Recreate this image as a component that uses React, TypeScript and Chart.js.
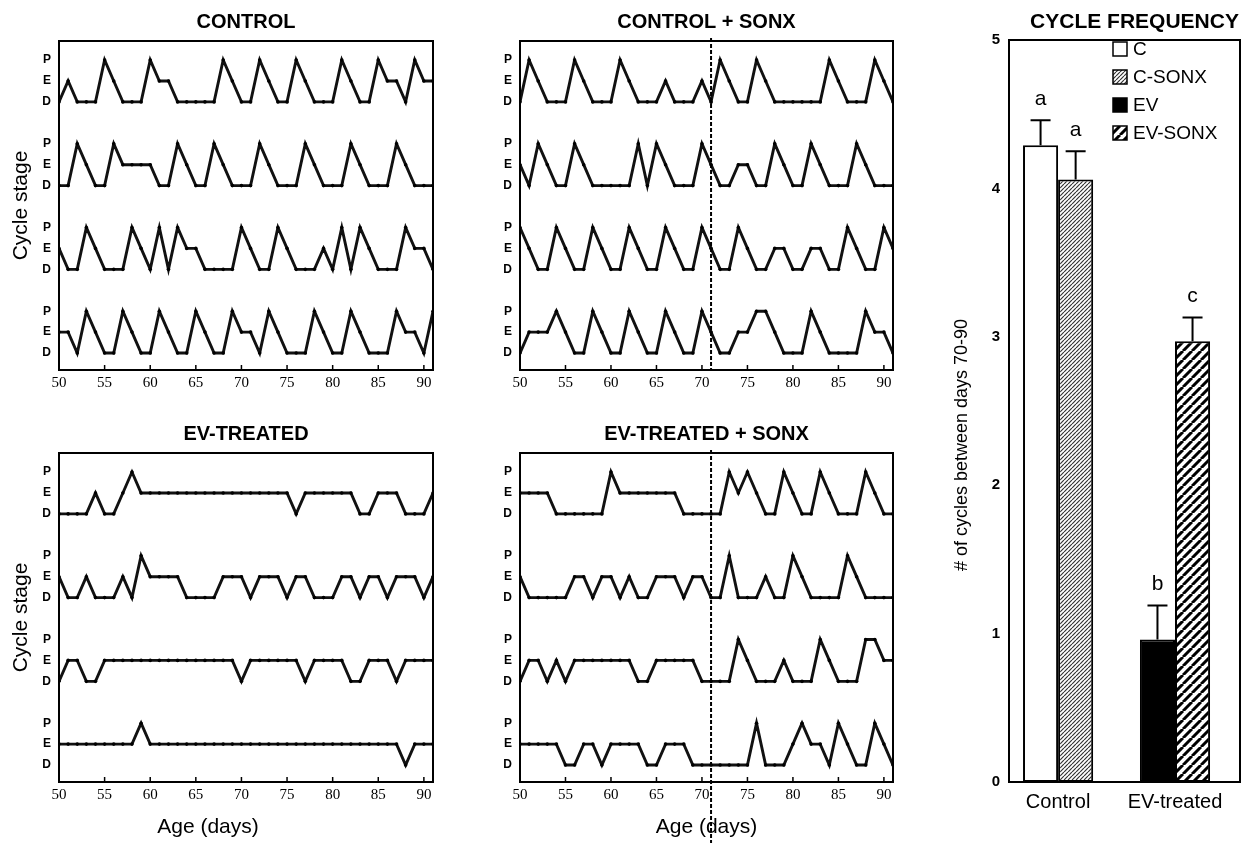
import React, { useEffect, useRef } from "react";
import { Chart, registerables } from "chart.js";

Chart.register(...registerables);

// ---------------- DATA ----------------
const DAYS = [
  50, 51, 52, 53, 54, 55, 56, 57, 58, 59, 60, 61, 62, 63, 64, 65, 66, 67, 68, 69, 70,
  71, 72, 73, 74, 75, 76, 77, 78, 79, 80, 81, 82, 83, 84, 85, 86, 87, 88, 89, 90, 91,
];
const X_TICK_DAYS = [50, 55, 60, 65, 70, 75, 80, 85, 90];
const STAGE_LABELS = ["D", "E", "P"];
const SONX_DAY = 71;

// one letter per day (days 50..91): D = diestrus, E = estrus, P = proestrus
const CONTROL = [
  "DEDDDPEDDDPEEDDDDDPEDDPEDDPEDDDPEDDPEEDPEE",
  "DDPEDDPEEEEDDPEDDPEDDDPEDDDPEDDDPEDDDPEDDD",
  "EDDPEDDDPEDPDPEEDDDDPEDDPEDDDEDPDPEDDDPEED",
  "EEDPEDDPEDDPEDDPEDDPEEDPEDDDPEDDPEDDDPEEDP",
];
const CONTROL_SONX = [
  "DPEDDDPEDDDPEDDDEDDDEDPEDDPEDDDDDDPEDDDPED",
  "EDPEDDPEDDDDDPDPEDDDPEDDEEDDPEDDPEDDDPEDDD",
  "PEDDPEDDPEDDPEDDPEDDPEDDPEDDEEDDEEDDPEDDPE",
  "DEEEPEDDPEDDPEDDPEDDPEDDEEPPEDDDPEDDDDPEED",
];
const EV_TREATED = [
  "DDDDEDDEPEEEEEEEEEEEEEEEEEDEEEEEEDDEEEDDDE",
  "EDDEDDDEDPEEEEDDDDEEEDEEEDEEDDDEEDEEDEEEDE",
  "DEEDDEEEEEEEEEEEEEEEDEEEEEEDEEEEDDEEEDEEEE",
  "EEEEEEEEEPEEEEEEEEEEEEEEEEEEEEEEEEEEEEDEEE",
];
const EV_TREATED_SONX = [
  "EEEEDDDDDDPEEEEEEEDDDDDPEPEDDPEDDPEDDDPEDD",
  "EDDDDDEEDEEDEDDEEEDEEDDPDDDEDDPEDDDDPEDDDD",
  "DEEDEDEEEEEEEDDEEEEEDDDDPEDDDEDDDPEDDDPPEE",
  "EEEEEDDEEDEEEEDDEEEDDDDDDDPDDDEPEEDPEDDPED",
];

const BAR_GROUPS = ["Control", "EV-treated"];
const BAR_SERIES = ["C", "C-SONX", "EV", "EV-SONX"];
const BAR_GROUP_OF_SERIES = [0, 0, 1, 1];
const BAR_MEANS = [4.29, 4.06, 0.96, 2.97];
const BAR_SEM = [0.17, 0.19, 0.23, 0.16];
const BAR_LETTERS = ["a", "a", "b", "c"];
const BAR_Y_TICKS = [0, 1, 2, 3, 4, 5];

// ---------------- STYLE ----------------
const SANS = "'Liberation Sans', Arial, Helvetica, sans-serif";
const SERIF = "'Liberation Serif', 'Times New Roman', serif";
const STAGE_VALUE: Record<string, number> = { D: 0, E: 1, P: 2 };
const ROW_STEP = 4;

Chart.defaults.font.family = SANS;
Chart.defaults.color = "#000";

type Place = { left: number; top: number; width: number; height: number };

function CanvasChart({ place, build }: { place: Place; build: () => any }) {
  const ref = useRef<HTMLCanvasElement | null>(null);
  useEffect(() => {
    if (!ref.current) return;
    const chart = new Chart(ref.current, build());
    return () => chart.destroy();
  }, []);
  return (
    <canvas
      ref={ref}
      width={place.width}
      height={place.height}
      style={{ position: "absolute", left: place.left, top: place.top, width: place.width, height: place.height }}
    />
  );
}

function framePlugin() {
  return {
    id: "frame",
    afterDatasetsDraw(chart: any) {
      const { ctx, chartArea: a } = chart;
      ctx.save();
      ctx.strokeStyle = "#000";
      ctx.lineWidth = 2;
      ctx.strokeRect(a.left, a.top, a.right - a.left, a.bottom - a.top);
      ctx.restore();
    },
  };
}

type Label = { text: string; font: string; dx: number; y: (a: any, h: number) => number; rotate?: boolean; x?: (a: any) => number };

function labelsPlugin(labels: Label[]) {
  return {
    id: "labels",
    afterDraw(chart: any) {
      const { ctx, chartArea: a } = chart;
      ctx.save();
      ctx.fillStyle = "#000";
      ctx.textAlign = "center";
      ctx.textBaseline = "middle";
      for (const l of labels) {
        ctx.font = l.font;
        const x = (l.x ? l.x(a) : (a.left + a.right) / 2) + l.dx;
        const y = l.y(a, chart.height);
        if (l.rotate) {
          ctx.save();
          ctx.translate(x, y);
          ctx.rotate(-Math.PI / 2);
          ctx.fillText(l.text, 0, 0);
          ctx.restore();
        } else {
          ctx.fillText(l.text, x, y);
        }
      }
      ctx.restore();
    },
  };
}

type PanelOpts = {
  title: string;
  traces: string[];
  yTitle: boolean;
  xTitle: boolean;
  xTitleDx: number;
  dashed: "none" | "axis" | "bottom";
  yAxisWidth: number;
  padTop: number;
  padRight: number;
  xAxisHeight: number;
};

function linePanel(o: PanelOpts) {
  const rows = o.traces.length;
  const datasets = o.traces.map((trace, r) => ({
    data: DAYS.map((d, i) => ({ x: d, y: STAGE_VALUE[trace[i]] + (rows - 1 - r) * ROW_STEP })),
    borderColor: "#111",
    backgroundColor: "#000",
    borderWidth: 2.9,
    pointRadius: 1.8,
    pointBorderWidth: 0,
    pointBackgroundColor: "#000",
    tension: 0,
  }));
  const yTickValues: number[] = [];
  for (let r = 0; r < rows; r++) for (let k = 0; k < STAGE_LABELS.length; k++) yTickValues.push(r * ROW_STEP + k);

  const decorations = {
    id: "decorations",
    afterDatasetsDraw(chart: any) {
      const { ctx, chartArea: a, scales } = chart;
      ctx.save();
      ctx.strokeStyle = "#000";
      ctx.lineWidth = 1.5;
      for (const d of X_TICK_DAYS) {
        const x = scales.x.getPixelForValue(d);
        ctx.beginPath();
        ctx.moveTo(x, a.bottom);
        ctx.lineTo(x, a.bottom - 5);
        ctx.stroke();
      }
      if (o.dashed !== "none") {
        const x = scales.x.getPixelForValue(SONX_DAY);
        ctx.setLineDash([4, 2]);
        ctx.lineWidth = 2;
        ctx.beginPath();
        ctx.moveTo(x, a.top - 3);
        ctx.lineTo(x, o.dashed === "bottom" ? chart.height : a.bottom);
        ctx.stroke();
      }
      ctx.restore();
    },
  };

  const labels: Label[] = [{ text: o.title, font: `bold 20px ${SANS}`, dx: 0, y: (a) => a.top - 19 }];
  if (o.xTitle) labels.push({ text: "Age (days)", font: `21px ${SANS}`, dx: o.xTitleDx, y: (_a, h) => h - 16 });

  return {
    type: "line",
    data: { datasets },
    options: {
      animation: false,
      responsive: false,
      events: [],
      layout: { padding: { left: 0, top: o.padTop, right: o.padRight, bottom: 0 } },
      plugins: { legend: { display: false }, tooltip: { enabled: false } },
      scales: {
        x: {
          type: "linear",
          min: DAYS[0],
          max: DAYS[DAYS.length - 1],
          afterBuildTicks: (s: any) => {
            s.ticks = X_TICK_DAYS.map((v) => ({ value: v }));
          },
          afterFit: (s: any) => {
            s.height = o.xAxisHeight;
          },
          grid: { display: false, drawTicks: false },
          border: { display: false },
          ticks: {
            padding: 4,
            maxRotation: 0,
            autoSkip: false,
            font: { family: SERIF, size: 15 },
            callback: (v: any) => String(v),
          },
        },
        y: {
          type: "linear",
          min: -0.81,
          max: 14.91,
          afterBuildTicks: (s: any) => {
            s.ticks = yTickValues.map((v) => ({ value: v }));
          },
          afterFit: (s: any) => {
            s.width = o.yAxisWidth;
          },
          grid: { display: false, drawTicks: false },
          border: { display: false },
          ticks: {
            padding: 8,
            autoSkip: false,
            font: { size: 12, weight: "bold" },
            callback: (v: any) => STAGE_LABELS[Math.round(v) % ROW_STEP] ?? "",
          },
          title: {
            display: o.yTitle,
            text: "Cycle stage",
            font: { size: 21 },
            padding: { top: 9, bottom: 0 },
          },
        },
      },
    },
    plugins: [framePlugin(), decorations, labelsPlugin(labels)],
  };
}

function hatchPattern(size: number, lineWidth: number, color: string): CanvasPattern {
  const c = document.createElement("canvas");
  c.width = size;
  c.height = size;
  const g = c.getContext("2d")!;
  g.fillStyle = "#fff";
  g.fillRect(0, 0, size, size);
  g.strokeStyle = color;
  g.lineWidth = lineWidth;
  g.beginPath();
  for (const k of [-1, 0, 1]) {
    g.moveTo(k * size, size);
    g.lineTo(k * size + size, 0);
  }
  g.stroke();
  return g.createPattern(c, "repeat")!;
}

function barPanel() {
  const fills: (string | CanvasPattern)[] = [
    "#fff",
    hatchPattern(4, 1.2, "#333"),
    "#000",
    hatchPattern(9, 3, "#000"),
  ];
  const datasets = BAR_SERIES.map((name, s) => ({
    label: name,
    data: BAR_GROUPS.map((_, g) => ({ x: g, y: BAR_GROUP_OF_SERIES[s] === g ? BAR_MEANS[s] : null })),
    backgroundColor: fills[s],
    borderColor: "#000",
    borderWidth: 2,
    borderSkipped: false,
  }));

  const overlay = {
    id: "overlay",
    afterDatasetsDraw(chart: any) {
      const { ctx, chartArea: a, scales } = chart;
      ctx.save();
      ctx.strokeStyle = "#000";
      ctx.fillStyle = "#000";
      ctx.lineWidth = 2;
      BAR_SERIES.forEach((_, s) => {
        const el = chart.getDatasetMeta(s).data[BAR_GROUP_OF_SERIES[s]];
        if (!el) return;
        const x = el.x;
        const yBar = el.y;
        const yTop = scales.y.getPixelForValue(BAR_MEANS[s] + BAR_SEM[s]);
        ctx.beginPath();
        ctx.moveTo(x, yBar);
        ctx.lineTo(x, yTop);
        ctx.moveTo(x - 10, yTop);
        ctx.lineTo(x + 10, yTop);
        ctx.stroke();
        ctx.font = `21px ${SANS}`;
        ctx.textAlign = "center";
        ctx.textBaseline = "middle";
        ctx.fillText(BAR_LETTERS[s], x, yTop - 21);
      });
      // legend
      const lx = a.left + 104;
      BAR_SERIES.forEach((name, s) => {
        const cy = a.top + 9 + s * 28;
        ctx.fillStyle = fills[s] as any;
        ctx.fillRect(lx, cy - 7, 14, 14);
        ctx.lineWidth = 1.5;
        ctx.strokeRect(lx, cy - 7, 14, 14);
        ctx.fillStyle = "#000";
        ctx.font = `19px ${SANS}`;
        ctx.textAlign = "left";
        ctx.textBaseline = "middle";
        ctx.fillText(name, lx + 20, cy + 1);
      });
      ctx.restore();
    },
  };

  const labels: Label[] = [
    { text: "CYCLE FREQUENCY", font: `bold 21px ${SANS}`, dx: 10, y: (a) => a.top - 18 },
    { text: "# of cycles between days 70-90", font: `18px ${SANS}`, dx: 0, x: () => 22, y: () => 445, rotate: true },
  ];

  return {
    type: "bar",
    data: { datasets },
    options: {
      animation: false,
      responsive: false,
      events: [],
      layout: { padding: { left: 0, top: 40, right: 7, bottom: 0 } },
      datasets: { bar: { skipNull: true, categoryPercentage: 0.6, barPercentage: 1.0 } },
      plugins: { legend: { display: false }, tooltip: { enabled: false } },
      scales: {
        x: {
          type: "linear",
          offset: false,
          min: -0.42,
          max: 1.556,
          afterBuildTicks: (s: any) => {
            s.ticks = BAR_GROUPS.map((_, i) => ({ value: i }));
          },
          afterFit: (s: any) => {
            s.height = 61;
          },
          grid: { display: false, drawTicks: false, offset: false },
          border: { display: false },
          ticks: {
            padding: 8,
            maxRotation: 0,
            autoSkip: false,
            font: { size: 20 },
            callback: (v: any) => BAR_GROUPS[Math.round(v)] ?? "",
          },
        },
        y: {
          type: "linear",
          min: BAR_Y_TICKS[0],
          max: BAR_Y_TICKS[BAR_Y_TICKS.length - 1],
          afterBuildTicks: (s: any) => {
            s.ticks = BAR_Y_TICKS.map((v) => ({ value: v }));
          },
          afterFit: (s: any) => {
            s.width = 69;
          },
          grid: { display: false, drawTicks: false },
          border: { display: false },
          ticks: { padding: 9, font: { size: 15, weight: "bold" } },
        },
      },
    },
    plugins: [framePlugin(), overlay, labelsPlugin(labels)],
  };
}

export default function App() {
  return (
    <div style={{ position: "absolute", left: 0, top: 0, width: 1247, height: 843, background: "#fff", overflow: "hidden" }}>
      <CanvasChart
        place={{ left: 0, top: 0, width: 450, height: 400 }}
        build={() =>
          linePanel({ title: "CONTROL", traces: CONTROL, yTitle: true, xTitle: false, xTitleDx: 0, dashed: "none", yAxisWidth: 59, padTop: 41, padRight: 17, xAxisHeight: 30 })
        }
      />
      <CanvasChart
        place={{ left: 470, top: 0, width: 440, height: 400 }}
        build={() =>
          linePanel({ title: "CONTROL + SONX", traces: CONTROL_SONX, yTitle: false, xTitle: false, xTitleDx: 0, dashed: "axis", yAxisWidth: 50, padTop: 41, padRight: 17, xAxisHeight: 30 })
        }
      />
      <CanvasChart
        place={{ left: 0, top: 413, width: 450, height: 430 }}
        build={() =>
          linePanel({ title: "EV-TREATED", traces: EV_TREATED, yTitle: true, xTitle: true, xTitleDx: -38, dashed: "none", yAxisWidth: 59, padTop: 40, padRight: 17, xAxisHeight: 61 })
        }
      />
      <CanvasChart
        place={{ left: 470, top: 413, width: 440, height: 430 }}
        build={() =>
          linePanel({ title: "EV-TREATED + SONX", traces: EV_TREATED_SONX, yTitle: false, xTitle: true, xTitleDx: 0, dashed: "bottom", yAxisWidth: 50, padTop: 40, padRight: 17, xAxisHeight: 61 })
        }
      />
      <CanvasChart place={{ left: 940, top: 0, width: 307, height: 843 }} build={barPanel} />
    </div>
  );
}
